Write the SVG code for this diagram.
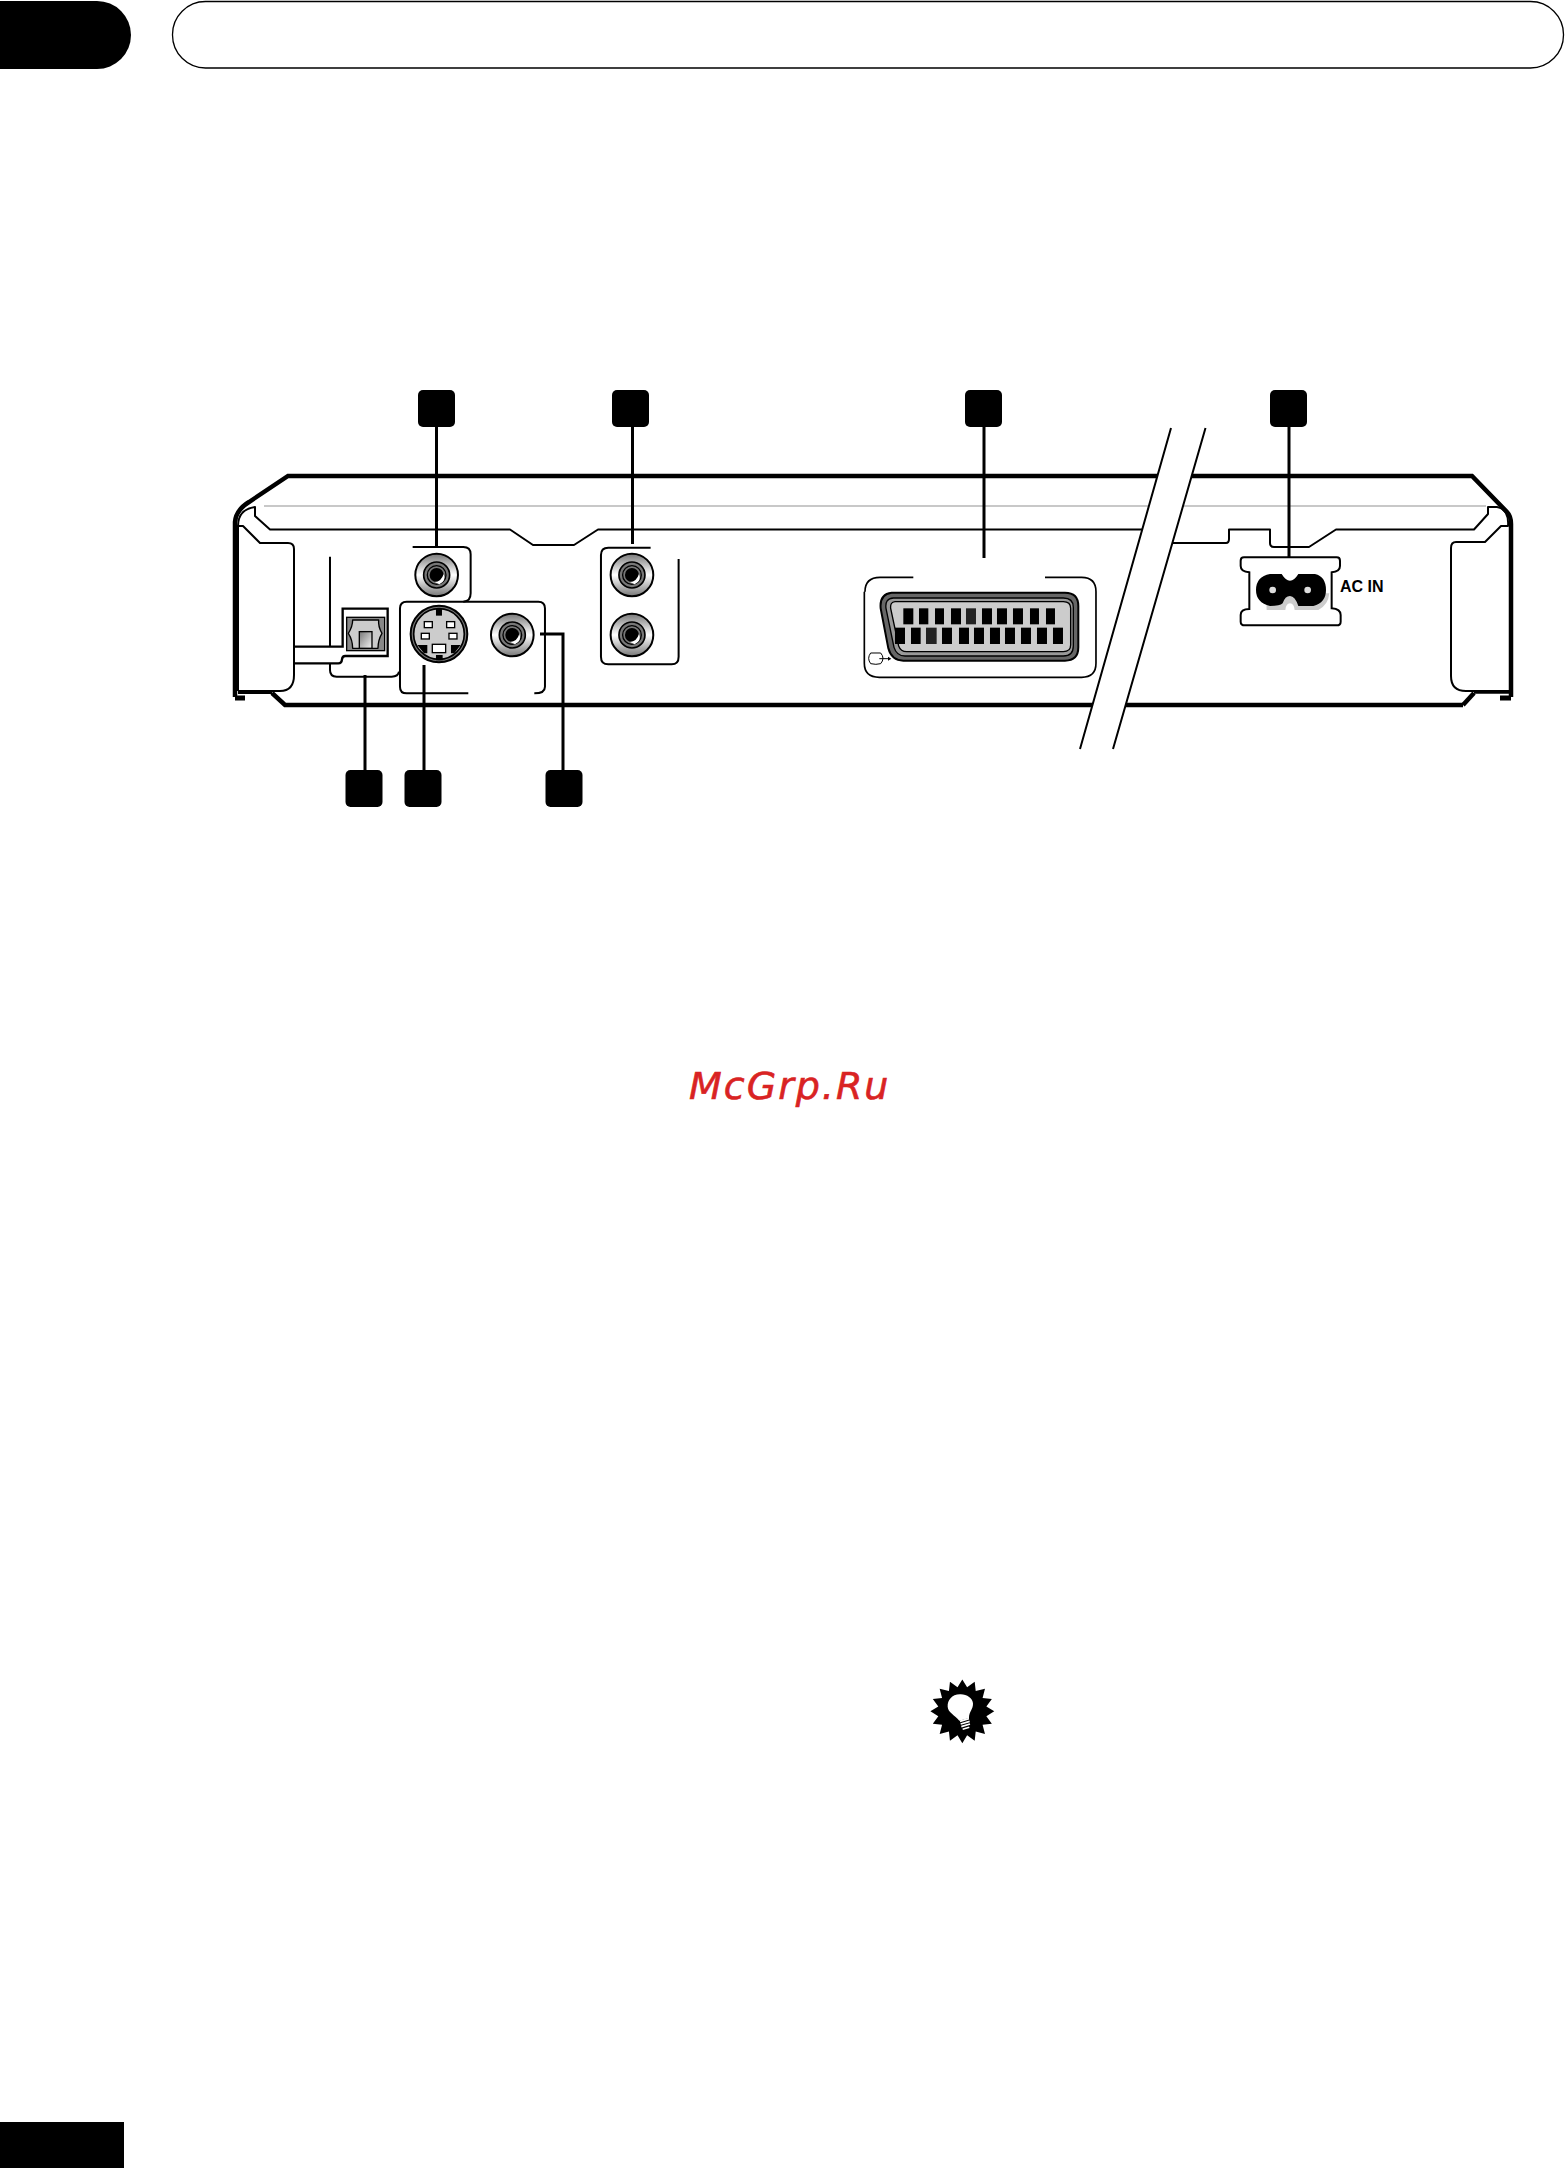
<svg xmlns="http://www.w3.org/2000/svg" width="1565" height="2168" viewBox="0 0 1565 2168">
<style>
.thin{fill:none;stroke:#000;stroke-width:2;stroke-linejoin:round;stroke-linecap:butt}
.body{fill:none;stroke:#000;stroke-width:4.5;stroke-linejoin:miter}
.lead{fill:none;stroke:#000;stroke-width:3}
.z{fill:none;stroke:#000;stroke-width:6;stroke-linejoin:round}
.pin{fill:#fff;stroke:#000;stroke-width:4}
.mark{fill:#000}
</style>
<defs>
<linearGradient id="rca" x1="0" y1="0" x2="0" y2="1"><stop offset="0" stop-color="#777"/><stop offset=".5" stop-color="#fff"/><stop offset="1" stop-color="#777"/></linearGradient>
<linearGradient id="opt" x1="0" y1="0" x2="1" y2="1"><stop offset="0" stop-color="#777"/><stop offset="1" stop-color="#f4f4f4"/></linearGradient>
<g id="jack">
<circle r="64" fill="url(#rca)" stroke="#000" stroke-width="6"/>
<circle r="39" fill="#777" stroke="#000" stroke-width="5"/>
<circle r="28" fill="#777" stroke="#000" stroke-width="4"/>
<circle r="21" fill="#000"/>
<path d="M-6,21Q14,20 21,-3Q30,18 8,28Z" fill="#fff"/>
</g>
</defs>
<rect width="1565" height="2168" fill="#fff"/>

<g id="header-tab"><path d="M0,1H97A34,34 0 0 1 97,69H0Z" fill="#000"/></g>
<g id="header-pill"><rect x="172.5" y="1.5" width="1391" height="66.5" rx="33" ry="33" fill="#fff" stroke="#000" stroke-width="1.3"/></g>
<g id="footer-tab"><rect x="0" y="2122" width="124" height="46" fill="#000"/></g>

<g id="device">
<path class="body" d="M1463,705H285L272,693M235,697V522Q236,510 249,502L288,476H1472L1507,512Q1511,516 1511,524V697"/>
<path d="M235,698H245M1500,698H1511" stroke="#000" stroke-width="5" fill="none"/>
<path class="body" d="M1463,705L1474,693"/>
<path d="M272,692.5H238" stroke="#000" stroke-width="3" fill="none"/>
<path d="M1474,692H1511" stroke="#000" stroke-width="3.5" fill="none"/>
<path d="M264,506H1486" stroke="#c8c8c8" stroke-width="2" fill="none"/>
<path class="thin" d="M238,526C238,512 248,508 255,507L255,516L270,529.5H510L533,545H574L598,529.5H1160"/>
<path class="thin" d="M1165,543H1226Q1229,543 1229,539V529.5H1270V543Q1270,547 1274,547H1309L1336,529.5H1474L1488,514V507H1497C1505,508 1509,516 1508,526H1501L1485,542H1456Q1451,542 1451,548V676Q1451,691 1466,691H1511"/>
<path class="thin" d="M238,691V526H243L260,543H288Q294,543 294,549V675Q294,691 280,691H238"/>
</g>

<g id="break">
<polygon points="1171,428 1205.5,428 1113,749 1080,749" fill="#fff"/>
<path class="thin" d="M1171,428L1080,749M1205.5,428L1113,749"/>
</g>

<g id="panel-outlines" transform="translate(220,370) scale(.3333)">
<path class="z" d="M578,531H730Q752,531 752,553V670Q752,695 730,695"/>
<path class="z" d="M745,970H560Q540,970 540,950V715Q540,695 560,695H955Q975,695 975,715V950Q975,970 943,970"/>
<path class="z" d="M1292,533H1165Q1143,533 1143,555V860Q1143,883 1165,883H1355Q1376,883 1376,860V567"/>
<path class="z" d="M330,560V830M330,880V900Q330,920 350,920H515Q535,920 537,905"/>
</g>

<g id="optical-port" transform="translate(220,370) scale(.3333)">
<path d="M222,830H368V716H503V858H376Q367,858 366,868Q365,880 355,880H222" fill="none" stroke="#000" stroke-width="7" stroke-linejoin="miter"/>
<rect x="380" y="742" width="114" height="100" fill="#888" stroke="#000" stroke-width="4"/>
<path d="M398,750H476Q474,770 486,790Q474,810 474,835H398Q398,810 385,790Q398,770 398,750Z" fill="#ccc" stroke="#000" stroke-width="4" stroke-linejoin="round"/>
<rect x="418" y="785" width="38" height="50" fill="url(#opt)" stroke="#000" stroke-width="4"/>
</g>

<g id="jack-video" transform="translate(220,370) scale(.3333)"><use href="#jack" x="650" y="615"/></g>
<g id="jack-audio-l" transform="translate(220,370) scale(.3333)"><use href="#jack" x="1236" y="615"/></g>
<g id="jack-audio-r" transform="translate(220,370) scale(.3333)"><use href="#jack" x="1236" y="795"/></g>
<g id="jack-coaxial" transform="translate(220,370) scale(.3333)"><use href="#jack" x="877" y="795"/></g>

<g id="s-video" transform="translate(220,370) scale(.3333)">
<circle cx="657" cy="792" r="85" fill="#777" stroke="#000" stroke-width="6"/>
<circle cx="657" cy="792" r="76" fill="#ccc" stroke="#000" stroke-width="5"/>
<rect x="648" y="715" width="18" height="22" fill="#000"/>
<rect x="648" y="855" width="20" height="16" fill="#000"/>
<path d="M592,825H622V850H612Z M693,825H722L703,850H693Z" fill="#000"/>
<rect class="pin" x="613" y="755" width="24" height="18"/>
<rect class="pin" x="680" y="755" width="24" height="18"/>
<rect class="pin" x="604" y="790" width="24" height="17"/>
<rect class="pin" x="687" y="790" width="24" height="17"/>
<rect class="pin" x="637" y="823" width="40" height="25"/>
</g>

<g id="scart-port" transform="translate(850,570) scale(.3333)">
<path d="M45,65Q45,22 90,22H190M585,22H695Q738,22 738,65V280Q738,322 695,322H88Q43,322 43,280V65" fill="none" stroke="#000" stroke-width="5"/>
<path d="M125,68H645Q685,68 685,108V232Q685,272 645,272H160Q125,272 115,235L92,115Q88,72 125,68Z" fill="#666" stroke="#000" stroke-width="6"/>
<path d="M130,84H640Q670,84 670,112V228Q670,258 640,258H165Q140,258 132,232L108,115Q104,86 130,84Z" fill="#999" stroke="#000" stroke-width="4"/>
<path d="M135,95H640Q662,95 662,115V225Q662,245 640,245H170Q152,245 146,228L122,115Q120,96 135,95Z" fill="#ccc" stroke="#000" stroke-width="4"/>
<g fill="#000">
<rect x="160" y="115" width="30" height="48"/><rect x="207" y="115" width="28" height="48"/><rect x="255" y="115" width="27" height="48"/><rect x="303" y="115" width="30" height="48"/><rect x="348" y="115" width="30" height="48" fill="#222"/><rect x="396" y="115" width="30" height="48"/><rect x="441" y="115" width="30" height="48"/><rect x="489" y="115" width="30" height="48"/><rect x="540" y="115" width="27" height="48"/><rect x="588" y="115" width="27" height="48"/>
<rect x="135" y="173" width="30" height="49"/><rect x="183" y="173" width="29" height="49"/><rect x="228" y="173" width="32" height="49" fill="#222"/><rect x="276" y="173" width="30" height="49"/><rect x="327" y="173" width="30" height="49"/><rect x="372" y="173" width="30" height="49"/><rect x="420" y="173" width="30" height="49"/><rect x="465" y="173" width="30" height="49"/><rect x="513" y="173" width="30" height="49"/><rect x="561" y="173" width="30" height="49"/><rect x="609" y="173" width="30" height="49"/>
</g>
<path d="M62,249H92Q106,265 92,281Q78,285 62,281Q50,265 62,249ZM88,266H114" fill="none" stroke="#000" stroke-width="3"/>
<path d="M114,260L124,266L114,272Z" fill="#000"/>
</g>

<g id="ac-inlet" transform="translate(1220,540) scale(.3333)">
<path d="M72,52H350Q360,52 360,62V78Q360,95 335,97V205Q362,207 362,225V245Q362,256 350,256H75Q62,256 62,245V225Q62,207 88,207V97Q62,95 62,78V62Q62,52 72,52Z" fill="#fff" stroke="#000" stroke-width="6"/>
<path d="M138,160H328Q325,195 295,210H224Q222,190 210,190Q198,190 196,210H140Z" fill="#ccc"/>
<path d="M150,102H185Q197,122 210,122Q223,122 235,102H285Q318,110 318,150Q318,188 280,198H235Q225,168 210,168Q195,168 188,190Q180,198 150,198Q108,188 108,150Q108,110 150,102Z" fill="#000"/>
<circle cx="158" cy="150" r="10" fill="#ddd"/>
<circle cx="263" cy="150" r="10" fill="#ddd"/>
</g>
<text id="ac-in-label" x="1340" y="592" font-family="'Liberation Sans',Arial,sans-serif" font-weight="700" font-size="16" fill="#000">AC IN</text>

<g id="connectors">
<path class="lead" d="M436.5,427V548M632.5,427V544M984,427V558M1289,427V558M365,675V770M424,665V770M540,634H563V770"/>
</g>

<g id="marker-1"><rect class="mark" x="418" y="390" width="37" height="37" rx="5"/></g>
<g id="marker-2"><rect class="mark" x="612" y="390" width="37" height="37" rx="5"/></g>
<g id="marker-3"><rect class="mark" x="965" y="390" width="37" height="37" rx="5"/></g>
<g id="marker-4"><rect class="mark" x="1270" y="390" width="37" height="37" rx="5"/></g>
<g id="marker-5"><rect class="mark" x="345.5" y="770" width="37" height="37" rx="5"/></g>
<g id="marker-6"><rect class="mark" x="404.5" y="770" width="37" height="37" rx="5"/></g>
<g id="marker-7"><rect class="mark" x="545.5" y="770" width="37" height="37" rx="5"/></g>

<text id="watermark" x="689" y="1099" font-family="'DejaVu Sans',sans-serif" font-style="oblique" font-size="38" letter-spacing="2" fill="#d92323" stroke="#d92323" stroke-width=".6">McGrp.Ru</text>

<g id="tip-icon" transform="translate(900,1660) scale(.3333)">
<polygon transform="translate(187,154) scale(1.03)" fill="#000" points="0,-93 14,-70 36,-86 39,-59 66,-66 59,-39 86,-36 70,-14 93,0 70,14 86,36 59,39 66,66 39,59 36,86 14,70 0,93 -14,70 -36,86 -39,59 -66,66 -59,39 -86,36 -70,14 -93,0 -70,-14 -86,-36 -59,-39 -66,-66 -39,-59 -36,-86 -14,-70"/>
<path d="M180,103C155,103 142,122 143,140C144,158 165,165 178,182L207,174C207,155 220,148 219,130C218,115 200,102 180,103Z" fill="#fff"/>
<path d="M180,184L207,176M182,192L209,184M184,200L210,192M188,208L208,202" stroke="#fff" stroke-width="5" fill="none"/>
</g>
</svg>
